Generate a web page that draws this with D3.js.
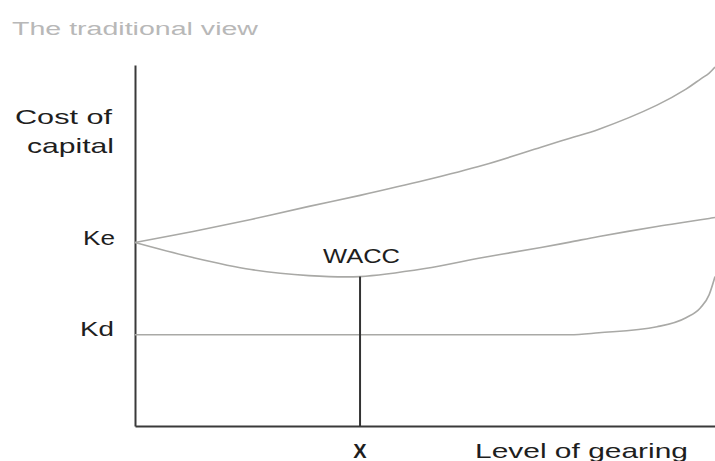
<!DOCTYPE html>
<html>
<head>
<meta charset="utf-8">
<script src="https://cdn.jsdelivr.net/npm/d3@7"></script>
<style>
  html, body { margin: 0; padding: 0; background: #fff; }
  svg { display: block; }
  text { font-family: "Liberation Sans", Arial, sans-serif; }
</style>
</head>
<body>
<script>
// Level of gearing (0 = no debt, 100 = highest gearing shown)
const gearing = [0, 10, 20, 30, 38.8, 50, 60, 70, 75, 80, 90, 95, 97.5, 99, 100];
// Cost of equity rises steadily with gearing
const costEquity = [9.15, 9.7, 10.3, 10.95, 11.5, 12.25, 13.0, 13.9, 14.35, 14.8, 16.0, 16.8, 17.3, 17.6, 17.9];
// Weighted average cost of capital: falls, bottoms out, then rises
const wacc = [9.15, 8.4, 7.8, 7.5, 7.45, 7.85, 8.4, 8.9, 9.17, 9.45, 9.95, 10.17, 10.28, 10.35, 10.4];
// Cost of debt stays flat until gearing becomes high
const costDebt = [4.55, 4.55, 4.55, 4.55, 4.55, 4.55, 4.55, 4.55, 4.55, 4.65, 4.95, 5.4, 5.9, 6.55, 7.45];
// Optimal gearing point where WACC is lowest
const optimalGearing = 38.8;
const optimalIndex = 4;

const width = 715, height = 461;
const svg = d3.select("body").append("svg")
  .attr("width", width).attr("height", height);

const x = d3.scaleLinear().domain([0, 100]).range([135, 715]);
const y = d3.scaleLinear().domain([0, 18]).range([426, 65]);

// Axes without ticks: just the two frame lines
svg.append("g")
  .attr("transform", `translate(0,${y(0)})`)
  .call(d3.axisBottom(x).tickValues([]).tickSizeOuter(0))
  .select(".domain").attr("stroke", "#3a3a3a").attr("stroke-width", 2);
svg.append("g")
  .attr("transform", `translate(${x(0)},0)`)
  .call(d3.axisLeft(y).tickValues([]).tickSizeOuter(0))
  .select(".domain").attr("stroke", "#3a3a3a").attr("stroke-width", 2);

const smoothLine = d3.line()
  .x((d, i) => x(gearing[i]))
  .y(d => y(d))
  .curve(d3.curveCatmullRom.alpha(0.5));
const flatLine = d3.line()
  .x((d, i) => x(gearing[i]))
  .y(d => y(d))
  .curve(d3.curveMonotoneX);

[[costEquity, smoothLine], [wacc, smoothLine], [costDebt, flatLine]].forEach(([series, gen]) => {
  svg.append("path")
    .datum(series)
    .attr("d", gen)
    .attr("fill", "none")
    .attr("stroke", "#a9a9a6")
    .attr("stroke-width", 1.6);
});

// Drop line from the WACC minimum to the gearing axis
svg.append("line")
  .attr("x1", x(optimalGearing)).attr("x2", x(optimalGearing))
  .attr("y1", y(wacc[optimalIndex])).attr("y2", y(0))
  .attr("stroke", "#333").attr("stroke-width", 2);

function label(txt, px, py, opts = {}) {
  const t = svg.append("text")
    .attr("x", px).attr("y", py)
    .attr("font-size", opts.size || 21)
    .attr("fill", opts.fill || "#1e1e1e")
    .attr("text-anchor", opts.anchor || "start")
    .attr("font-weight", opts.weight || "normal")
    .text(txt);
  if (opts.len) t.attr("textLength", opts.len).attr("lengthAdjust", "spacingAndGlyphs");
  return t;
}

label("The traditional view", 12, 35, { size: 18, fill: "#b8b8b8", len: 246 });
label("Cost of", 15, 124, { len: 97 });
label("capital", 27, 153, { len: 87 });
label("Ke", 83, y(costEquity[0]) + 3, { len: 32 });
label("Kd", 80, y(costDebt[0]) + 1, { len: 34 });
label("WACC", 323, 263, { len: 77 });
label("X", x(optimalGearing), 458, { anchor: "middle", weight: "bold", size: 20 });
label("Level of gearing", 475, 458, { len: 213 });
</script>
</body>
</html>
